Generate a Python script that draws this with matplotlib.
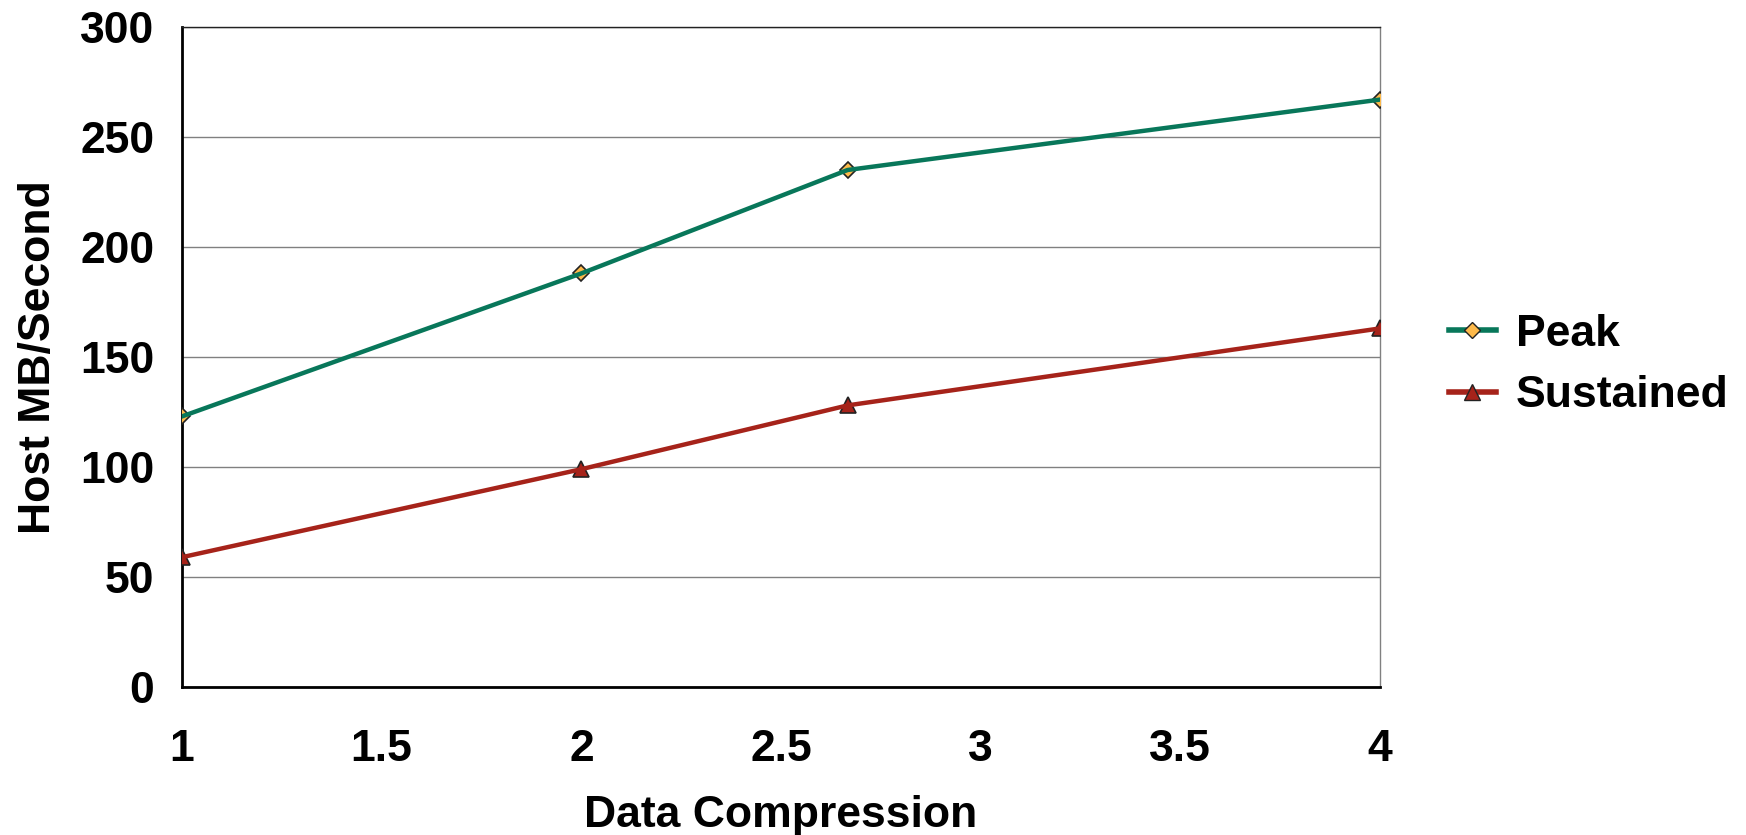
import matplotlib
matplotlib.use("Agg")
from matplotlib import pyplot as plt

# data
compression = [1, 2, 8 / 3, 4]
peak = [123, 188, 235, 267]
sustained = [59, 99, 128, 163]

x_ticks = [1, 1.5, 2, 2.5, 3, 3.5, 4]
x_labels = ["1", "1.5", "2", "2.5", "3", "3.5", "4"]
y_ticks = [0, 50, 100, 150, 200, 250, 300]

GREEN = "#08775a"
RED = "#a6231a"
YELLOW = "#fdb94a"
FS = 32

plt.rcParams['font.family'] = ['Liberation Sans', 'DejaVu Sans']
plt.rcParams['font.weight'] = 'bold'

fig = plt.figure(figsize=(17.46, 8.35), dpi=100)
ax = fig.add_axes([182 / 1746, 1 - 687 / 835, (1380 - 182) / 1746, (687 - 27) / 835])

# markers below, lines on top (as in the original)
ax.plot(compression, peak, linestyle="none", marker="D", markersize=8.5,
        markerfacecolor=YELLOW, markeredgecolor="#222222", markeredgewidth=1.2, zorder=3)
ax.plot(compression, peak, color=GREEN, linewidth=3.2, zorder=4)
ax.plot(compression, sustained, linestyle="none", marker="^", markersize=12,
        markerfacecolor=RED, markeredgecolor="#222222", markeredgewidth=1.2, zorder=3)
ax.plot(compression, sustained, color=RED, linewidth=3.2, zorder=4)

# legend proxies
ax.plot([], [], color=GREEN, linewidth=4, marker="D", markersize=8.5,
        markerfacecolor=YELLOW, markeredgecolor="#222222", label="Peak")
ax.plot([], [], color=RED, linewidth=4, marker="^", markersize=12,
        markerfacecolor=RED, markeredgecolor="#222222", label="Sustained")

ax.set_xlim(1, 4)
ax.set_ylim(0, 300)
ax.set_xticks(x_ticks)
ax.set_xticklabels(x_labels)
ax.set_yticks(y_ticks)
ax.tick_params(axis="both", length=0, labelsize=FS)
ax.tick_params(axis="x", pad=30)
ax.tick_params(axis="y", pad=20)
for lab in ax.get_xticklabels() + ax.get_yticklabels():
    lab.set_fontweight("bold")

ax.yaxis.grid(True, color="#808080", linewidth=1)
ax.set_axisbelow(True)

ax.spines["left"].set_linewidth(2)
ax.spines["bottom"].set_linewidth(2)
ax.spines["top"].set_color("#222222")
ax.spines["top"].set_linewidth(1)
ax.spines["right"].set_color("#808080")
ax.spines["right"].set_linewidth(1)

ax.set_xlabel("Data Compression", fontsize=FS, fontweight="bold", labelpad=18)
ax.set_ylabel("Host MB/Second", fontsize=FS, fontweight="bold", labelpad=15)

ax.legend(loc="center left", bbox_to_anchor=(1.0576, 0.488), frameon=False,
          borderpad=0, borderaxespad=0, handlelength=1.05, handletextpad=0.45,
          labelspacing=0.46, prop={"weight": "bold", "size": FS})

fig.savefig("out.png", dpi=100)
